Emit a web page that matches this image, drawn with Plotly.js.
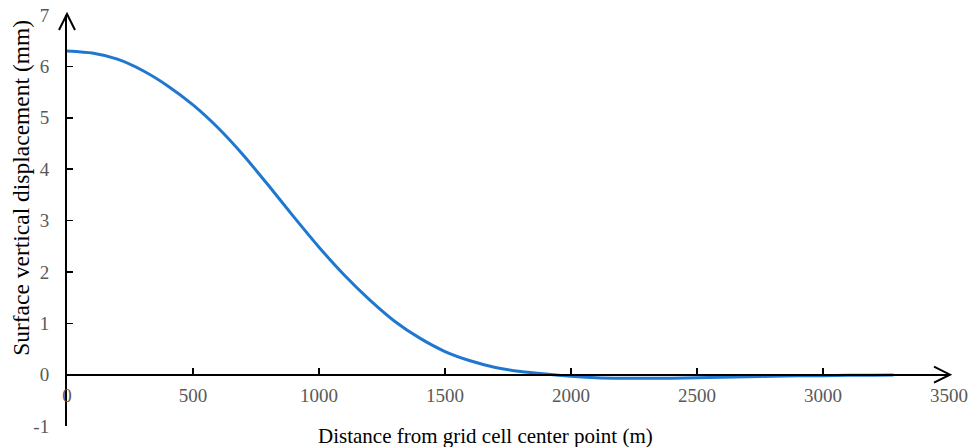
<!DOCTYPE html>
<html><head><meta charset="utf-8">
<script src="https://cdn.plot.ly/plotly-3.0.1.min.js"></script>
<style>html,body{margin:0;padding:0;background:#fff;}</style>
</head><body>
<div id="chart" style="width:975px;height:447px;"></div>
<script>
var distance = [0,100,200,300,400,500,600,700,800,900,1000,1100,1200,1300,1400,1500,1600,1700,1800,1900,2000,2100,2200,2300,2400,2500,2600,2700,2800,2900,3000,3100,3200,3280];
var displacement = [6.30,6.26,6.14,5.92,5.62,5.25,4.80,4.27,3.68,3.07,2.48,1.94,1.46,1.04,0.71,0.45,0.27,0.14,0.06,0.01,-0.03,-0.06,-0.07,-0.07,-0.07,-0.06,-0.05,-0.04,-0.03,-0.02,-0.02,-0.01,-0.01,-0.005];
var xTicks = [0,500,1000,1500,2000,2500,3000,3500];
var yTicks = [-1,0,1,2,3,4,5,6,7];
var xTitle = 'Distance from grid cell center point (m)';
var yTitle = 'Surface vertical displacement (mm)';

var font = 'Liberation Serif, Times New Roman, serif';
var data = [{
  x: distance, y: displacement, type: 'scatter', mode: 'lines',
  line: {color: '#1f77cf', width: 3, shape: 'spline', smoothing: 0.6},
  hoverinfo: 'none'
}];
var layout = {
  width: 975, height: 447,
  margin: {l: 67, r: 26, t: 15, b: 21},
  paper_bgcolor: '#fff', plot_bgcolor: '#fff',
  showlegend: false,
  font: {family: font, size: 19, color: '#595959'},
  xaxis: {
    range: [0, 3500], tickvals: xTicks, ticktext: xTicks.map(String),
    showgrid: false, zeroline: false, showline: true, linecolor: '#000', linewidth: 2,
    ticks: 'inside', ticklen: 6, tickcolor: '#000', tickwidth: 1.5,
    anchor: 'free', position: 0.125, ticklabelstandoff: 4,
    tickfont: {family: font, size: 19, color: '#595959'}
  },
  yaxis: {
    range: [-1, 7], tickvals: yTicks, ticktext: yTicks.map(String),
    showgrid: false, zeroline: false, showline: true, linecolor: '#000', linewidth: 2,
    ticks: 'inside', ticklen: 6, tickcolor: '#000', tickwidth: 1.5,
    ticklabelstandoff: 12,
    tickfont: {family: font, size: 19, color: '#595959'}
  },
  shapes: [
    {type: 'path', xref: 'paper', yref: 'paper', xsizemode: 'pixel', ysizemode: 'pixel',
     xanchor: 1, yanchor: 0.125, path: 'M -15 -8 L 1 0 L -15 8',
     line: {color: '#000', width: 2}},
    {type: 'path', xref: 'paper', yref: 'paper', xsizemode: 'pixel', ysizemode: 'pixel',
     xanchor: 0, yanchor: 1, path: 'M -8 -15 L 0 1 L 8 -15',
     line: {color: '#000', width: 2}}
  ],
  annotations: [
    {text: xTitle, xref: 'paper', yref: 'paper', x: 0.475, y: -0.024, xanchor: 'center', yanchor: 'middle',
     showarrow: false, font: {family: font, size: 21, color: '#000'}},
    {text: yTitle, xref: 'paper', yref: 'paper', x: -0.053, y: 0.58, xanchor: 'center', yanchor: 'middle',
     textangle: -90, showarrow: false, font: {family: font, size: 23.5, color: '#000'}}
  ]
};
Plotly.newPlot('chart', data, layout, {staticPlot: true, displayModeBar: false});
</script>
</body></html>
